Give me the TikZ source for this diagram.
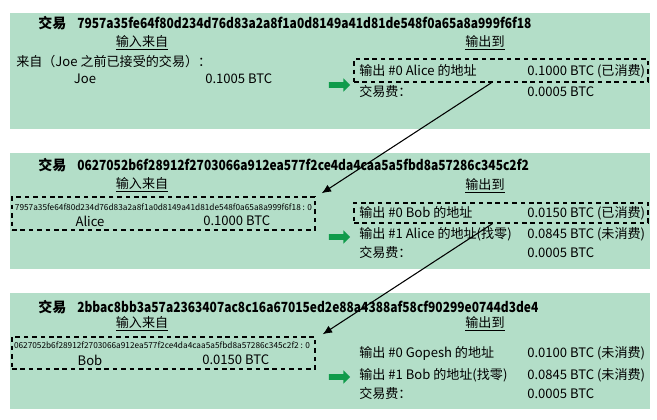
\documentclass[tikz,border=0pt]{standalone}
\usepackage{fontspec}
\setmainfont{Noto Sans CJK SC}
\usepackage{tikz}
\usetikzlibrary{arrows.meta,shapes.arrows}

\definecolor{panelgreen}{RGB}{179,222,200}
\definecolor{arrowgreen}{RGB}{16,155,75}

\newcommand{\narrowid}[1]{\scalebox{0.855}[1]{#1}}

\begin{document}
\begin{tikzpicture}[x=0.75pt,y=-0.75pt,
    panel/.style={fill=panelgreen, inner sep=0pt, minimum width=480pt},
    txt/.style={anchor=west, inner sep=0pt, font=\fontsize{9.8}{11}\selectfont},
    ctr/.style={inner sep=0pt, font=\fontsize{9.8}{11}\selectfont},
    head/.style={anchor=west, inner sep=0pt, font=\fontsize{10.5}{12}\selectfont\bfseries},
    tiny/.style={inner sep=0pt, font=\fontsize{6.2}{7}\selectfont},
    dbox/.style={draw, dash pattern=on 3.5pt off 2.8pt, line width=1.1pt, inner sep=0pt},
    go/.style={single arrow, fill=arrowgreen, inner sep=2pt, minimum height=16pt, single arrow head extend=2.8pt},
    link/.style={-{Latex[length=7pt,width=6pt]}, line width=0.8pt}]
    \useasboundingbox (0,0) rectangle (657,420);

    % transaction panels
    \node[panel, minimum height=87pt] (P1) at (330,71) {};
    \node[panel, minimum height=87pt] (P2) at (330,211) {};
    \node[panel, minimum height=87pt] (P3) at (330,351) {};

    % first transaction
    \node[head] (T1) at (38,23) {交易};
    \node[head] (H1) at (77,23) {\narrowid{7957a35fe64f80d234d76d83a2a8f1a0d8149a41d81de548f0a65a8a999f6f18}};
    \node[ctr] (In1) at (142,43) {\underline{输入来自}};
    \node[txt] (From1) at (16,62) {来自（Joe 之前已接受的交易）：};
    \node[ctr] (Joe) at (85,79) {Joe};
    \node[txt] (V1) at (205,79) {0.1005 BTC};
    \node[ctr] (Out1) at (485,43) {\underline{输出到}};
    \node[dbox, minimum width=220.5pt, minimum height=17.25pt] (O1) at (501,70.5) {};
    \node[txt] (A10) at (359,71) {输出 \#0 Alice 的地址};
    \node[txt] (B10) at (527,71) {0.1000 BTC (已消费)};
    \node[txt] (A1f) at (359,92) {交易费：};
    \node[txt] (B1f) at (527,92) {0.0005 BTC};
    \node[go] (G1) at (338,85) {};

    % second transaction
    \node[head] (T2) at (38,165) {交易};
    \node[head] (H2) at (77,165) {\narrowid{0627052b6f28912f2703066a912ea577f2ce4da4caa5a5fbd8a57286c345c2f2}};
    \node[ctr] (In2) at (142,185) {\underline{输入来自}};
    \node[dbox, minimum width=227.25pt, minimum height=24.75pt] (I2) at (163.5,213.5) {};
    \node[tiny] (R2) at (163.5,207) {7957a35fe64f80d234d76d83a2a8f1a0d8149a41d81de548f0a65a8a999f6f18 : 0};
    \node[ctr] (Alice) at (90,221) {Alice};
    \node[txt] (V2) at (203,221) {0.1000 BTC};
    \node[ctr] (Out2) at (485,186) {\underline{输出到}};
    \node[dbox, minimum width=220.5pt, minimum height=15pt] (O2) at (501,213) {};
    \node[txt] (A20) at (359,213) {输出 \#0 Bob 的地址};
    \node[txt] (B20) at (527,213) {0.0150 BTC (已消费)};
    \node[txt] (A21) at (359,234) {输出 \#1 Alice 的地址(找零)};
    \node[txt] (B21) at (527,234) {0.0845 BTC (未消费)};
    \node[txt] (A2f) at (359,253) {交易费：};
    \node[txt] (B2f) at (527,253) {0.0005 BTC};
    \node[go] (G2) at (338,237) {};

    % third transaction
    \node[head] (T3) at (38,307) {交易};
    \node[head] (H3) at (77,307) {\narrowid{2bbac8bb3a57a2363407ac8c16a67015ed2e88a4388af58cf90299e0744d3de4}};
    \node[ctr] (In3) at (142,324) {\underline{输入来自}};
    \node[dbox, minimum width=227.25pt, minimum height=24pt] (I3) at (163.5,353) {};
    \node[tiny] (R3) at (162,345) {0627052b6f28912f2703066a912ea577f2ce4da4caa5a5fbd8a57286c345c2f2 : 0};
    \node[ctr] (Bob) at (90,360) {Bob};
    \node[txt] (V3) at (202,360) {0.0150 BTC};
    \node[ctr] (Out3) at (485,324) {\underline{输出到}};
    \node[txt] (A30) at (359,353) {输出 \#0 Gopesh 的地址};
    \node[txt] (B30) at (527,353) {0.0100 BTC (未消费)};
    \node[txt] (A31) at (359,375) {输出 \#1 Bob 的地址(找零)};
    \node[txt] (B31) at (527,375) {0.0845 BTC (未消费)};
    \node[txt] (A3f) at (359,394) {交易费：};
    \node[txt] (B3f) at (527,394) {0.0005 BTC};
    \node[go] (G3) at (338,377) {};

    % spent outputs feed the next inputs
    \draw[link] (O1.-128) -- ([shift={(6,-3)}]I2.north east);
    \draw[link] (O2.-129) -- ([shift={(7,-2)}]I3.north east);
\end{tikzpicture}
\end{document}
